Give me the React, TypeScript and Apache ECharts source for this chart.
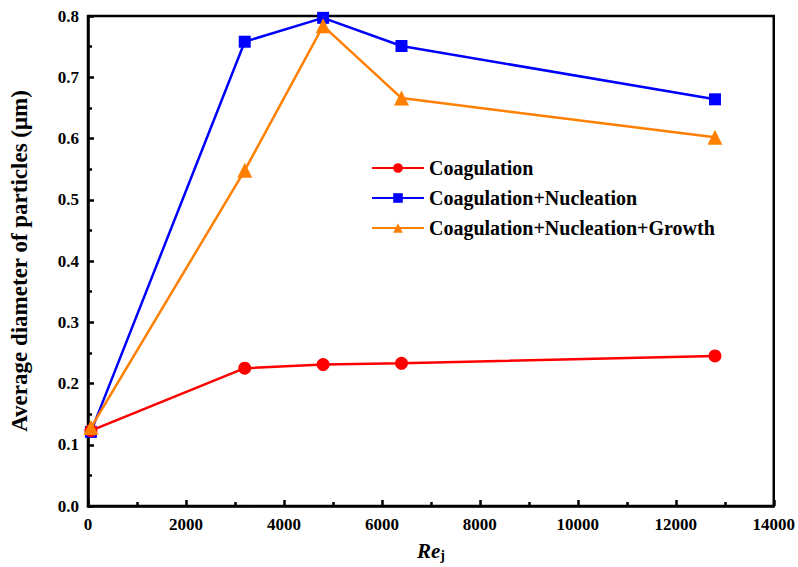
import React, { useEffect, useRef } from "react";
import * as echarts from "echarts";

const reynolds = [60, 3200, 4800, 6400, 12800];
const coagulation = [0.123, 0.225, 0.231, 0.233, 0.245];
const coagNucleation = [0.121, 0.758, 0.797, 0.751, 0.664];
const coagNucleationGrowth = [0.128, 0.548, 0.784, 0.666, 0.602];

const seriesNames = [
  "Coagulation",
  "Coagulation+Nucleation",
  "Coagulation+Nucleation+Growth",
];

const FONT = "Liberation Serif, Times New Roman, serif";

function pairs(ys: number[]) {
  return reynolds.map((x, i) => [x, ys[i]]);
}

export default function App() {
  const ref = useRef<HTMLDivElement>(null);

  useEffect(() => {
    if (!ref.current) return;
    const chart = echarts.init(ref.current, undefined, { renderer: "svg" });
    const axisText = {
      color: "#000",
      fontFamily: FONT,
      fontWeight: "bold" as const,
      fontSize: 17,
    };
    const tick = { color: "#000", width: 2.5 };
    chart.setOption({
      animation: false,
      backgroundColor: "#fff",
      grid: {
        left: 85,
        right: 24,
        top: 16,
        bottom: 59,
        show: true,
        borderColor: "#000",
        borderWidth: 2.5,
        backgroundColor: "transparent",
      },
      legend: {
        orient: "vertical",
        left: 366,
        top: 153,
        itemWidth: 52,
        itemHeight: 12,
        itemGap: 10,
        data: seriesNames,
        textStyle: { ...axisText, fontSize: 20 },
      },
      xAxis: {
        type: "value",
        min: 0,
        max: 14000,
        interval: 2000,
        name: "{a|Re}{b|j}",
        nameLocation: "middle",
        nameGap: 34,
        nameTextStyle: {
          rich: {
            a: {
              fontFamily: FONT,
              fontWeight: "bold",
              fontStyle: "italic",
              fontSize: 21,
              color: "#000",
            },
            b: {
              fontFamily: FONT,
              fontWeight: "bold",
              fontSize: 14,
              color: "#000",
              padding: [8, 0, 0, 0],
            },
          },
        },
        axisLine: { lineStyle: { color: "#000", width: 2.5 } },
        axisTick: { inside: true, length: 6, lineStyle: tick },
        minorTick: { show: true, splitNumber: 2, length: 4, lineStyle: tick },
        splitLine: { show: false },
        axisLabel: { ...axisText, margin: 10, formatter: (v: number) => String(v) },
      },
      yAxis: {
        type: "value",
        min: 0,
        max: 0.8,
        interval: 0.1,
        name: "Average diameter of particles (\u03bcm)",
        nameLocation: "middle",
        nameGap: 57,
        nameTextStyle: { ...axisText, fontSize: 23 },
        axisLine: { lineStyle: { color: "#000", width: 2.5 } },
        axisTick: { inside: true, length: 6, lineStyle: tick },
        minorTick: { show: true, splitNumber: 2, length: 4, lineStyle: tick },
        splitLine: { show: false },
        axisLabel: {
          ...axisText,
          margin: 9,
          formatter: (v: number) => v.toFixed(1),
        },
      },
      series: [
        {
          name: seriesNames[0],
          type: "line",
          data: pairs(coagulation),
          symbol: "circle",
          symbolSize: 13,
          color: "#ff0000",
          lineStyle: { width: 2.5, color: "#ff0000" },
          z: 3,
        },
        {
          name: seriesNames[1],
          type: "line",
          data: pairs(coagNucleation),
          symbol: "rect",
          symbolSize: 12,
          color: "#0000ff",
          lineStyle: { width: 2.5, color: "#0000ff" },
          z: 2,
        },
        {
          name: seriesNames[2],
          type: "line",
          data: pairs(coagNucleationGrowth),
          symbol: "triangle",
          symbolSize: 15,
          color: "#ff8000",
          lineStyle: { width: 2.5, color: "#ff8000" },
          z: 4,
        },
      ],
    });
    return () => chart.dispose();
  }, []);

  return (
    <div
      ref={ref}
      style={{ position: "fixed", left: 0, top: 0, width: 798, height: 567 }}
    />
  );
}
